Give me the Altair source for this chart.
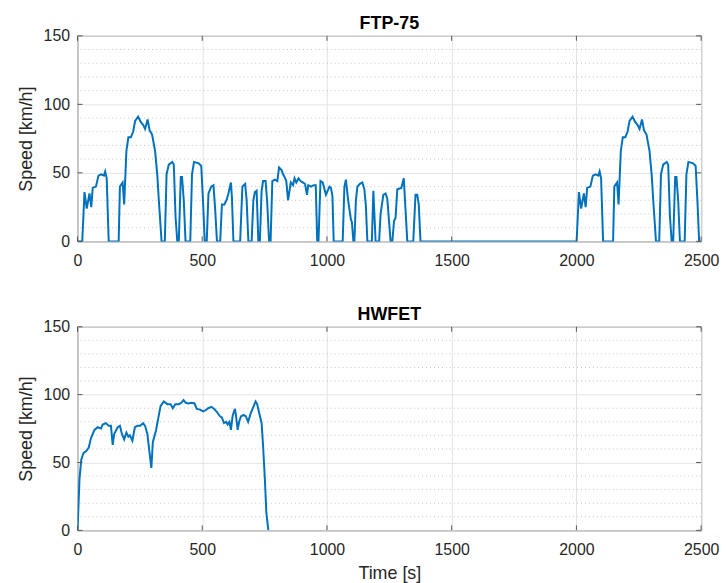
import altair as alt
import pandas as pd

# ---------------- data ----------------
ftp_t = [0, 19, 28, 37, 48, 55, 61, 74, 84, 95, 106, 111, 117, 125, 165, 170, 181, 187, 196, 204,
         214, 223, 231, 243, 254, 263, 271, 281, 289, 299, 311, 320, 326, 337, 350, 357, 366, 380,
         386, 393, 400, 406, 414, 419, 426, 433, 452, 459, 467, 486, 496, 503, 510, 518, 525, 536,
         545, 552, 559, 572, 579, 589, 599, 605, 615, 619, 625, 652, 661, 672, 678, 685, 698, 705,
         711, 718, 725, 731, 738, 744, 754, 760, 768, 774, 781, 791, 801, 808, 818, 824, 830, 837,
         844, 855, 864, 870, 877, 886, 894, 903, 912, 920, 925, 936, 947, 955, 961, 966, 974, 983,
         996, 1010, 1016, 1022, 1027, 1063, 1070, 1076, 1085, 1096, 1100, 1106, 1110, 1116, 1122,
         1132, 1142, 1150, 1156, 1162, 1180, 1186, 1195, 1209, 1215, 1226, 1235, 1242, 1255, 1262,
         1269, 1275, 1282, 1298, 1308, 1315, 1322, 1346, 1355, 1362, 1368, 1375,
         2001, 2010, 2019, 2030, 2037, 2043, 2056, 2066, 2077, 2088, 2093, 2099, 2107, 2147, 2152,
         2163, 2169, 2178, 2186, 2196, 2205, 2213, 2225, 2236, 2245, 2253, 2263, 2271, 2281, 2293,
         2302, 2308, 2319, 2332, 2339, 2348, 2362, 2368, 2375, 2382, 2388, 2396, 2401, 2408, 2415,
         2434, 2441, 2449, 2468, 2478, 2485, 2492]
ftp_v = [0, 0, 36, 24, 35, 25, 39, 40, 48, 49, 48, 51, 46, 0, 0, 40, 43, 27, 66, 76,
         76, 80, 88, 91, 87, 85, 82, 89, 81, 78, 66, 48, 30, 0, 0, 49, 56, 58,
         56, 18, 0, 0, 47, 47, 30, 0, 0, 49, 58, 57, 55, 30, 0, 0, 35, 40,
         41, 23, 0, 0, 27, 27, 31, 35, 43, 32, 0, 0, 40, 42, 30, 0, 0, 30,
         36, 37, 0, 0, 37, 44, 44, 30, 0, 0, 44, 45, 44, 54, 52, 49, 47, 44,
         30, 43, 41, 46, 43, 46, 44, 43, 42, 34, 41, 40, 41, 41, 0, 0, 44, 43,
         34, 40, 39, 33, 0, 0, 40, 45, 30, 16, 14, 0, 0, 30, 40,
         42, 43, 38, 26, 0, 0, 37, 0, 0, 20, 34, 35, 31, 0, 0,
         15, 17, 38, 39, 46, 23, 0, 0, 34, 34, 27, 0,
         0, 36, 24, 35, 25, 39, 40, 48, 49, 48, 51, 46, 0, 0, 40,
         43, 27, 66, 76, 76, 80, 88, 91, 87, 85, 82, 89, 81, 78, 66,
         48, 30, 0, 0, 49, 56, 58, 56, 18, 0, 0, 47, 47, 30, 0,
         0, 49, 58, 57, 55, 30, 0]

hw_t = [0, 8, 15, 24, 35, 45, 54, 68, 81, 94, 101, 114, 125, 134, 141, 147, 161, 170, 178, 187,
        196, 204, 210, 220, 230, 240, 251, 263, 271, 280, 287, 296, 302, 315, 323, 333, 346, 360,
        373, 382, 392, 406, 416, 425, 434, 445, 458, 469, 478, 491, 504, 513, 524, 537, 550, 560,
        569, 579, 587, 596, 602, 609, 615, 622, 631, 635, 642, 648, 655, 666, 675, 684, 694, 705,
        714, 720, 731, 738, 744, 751, 757, 765]
hw_v = [0, 38, 52, 57, 58.5, 61, 68, 74, 76, 75, 78, 79, 77, 77, 63, 71, 76, 77, 71, 67,
        72, 69, 70, 66, 76, 77, 77, 79, 77, 71, 60, 46, 65, 74, 82, 91.5, 95, 93,
        93, 90, 93, 93, 94, 96, 94, 93.5, 94, 93.5, 89.5, 89, 87.6, 88.5, 90, 91, 89, 87,
        84.5, 83, 79, 80, 78, 80, 74, 84.5, 89.5, 85, 74, 80, 84, 85, 84, 80, 86, 91,
        95, 93, 84.5, 79, 62, 38, 13, 0]

x_ticks = [0, 500, 1000, 1500, 2000, 2500]
y_ticks = [0, 50, 100, 150]
y_minor = [10, 20, 30, 40, 60, 70, 80, 90, 110, 120, 130, 140]

BLUE = "#0072BD"
FONT = "Liberation Sans"
FRAME = "#555555"
W = 628


def panel(t, v, title, H, xtitle):
    df = pd.DataFrame({"t": t, "v": v})
    xs = alt.Scale(domain=[0, 2500], nice=False)
    ys = alt.Scale(domain=[0, 150], nice=False)

    common = dict(grid=True, ticks=False, domain=False, labelFlush=False,
                  labelFont=FONT, labelFontSize=16, labelColor="#262626",
                  titleFont=FONT, titleFontSize=18, titleFontWeight="normal",
                  titleColor="#262626", gridColor="#e3e3e3")
    if xtitle:
        xaxis = alt.Axis(values=x_ticks, labelPadding=11, format="d",
                         title=xtitle, titlePadding=7, **common)
    else:
        xaxis = alt.Axis(values=x_ticks, labelPadding=11, format="d",
                         title=None, **common)
    yaxis = alt.Axis(values=y_ticks, labelPadding=8, title="Speed [km/h]",
                     titlePadding=8, **common)

    minor = alt.Chart(pd.DataFrame({"m": y_minor})).mark_rule(
        color="#c4c4c4", strokeDash=[1, 3], strokeWidth=1
    ).encode(y=alt.Y("m:Q", scale=ys, axis=yaxis))

    line = alt.Chart(df).mark_line(color=BLUE, strokeWidth=2, clip=True).encode(
        x=alt.X("t:Q", scale=xs, axis=xaxis),
        y=alt.Y("v:Q", scale=ys, axis=yaxis),
    )

    xt = pd.DataFrame({"xt": x_ticks})
    yt = pd.DataFrame({"yt": y_ticks})
    tb = alt.Chart(xt).mark_rule(color=FRAME, strokeWidth=1).encode(
        x=alt.X("xt:Q", scale=xs, axis=xaxis), y=alt.value(H), y2=alt.value(H - 5))
    tt = alt.Chart(xt).mark_rule(color=FRAME, strokeWidth=1).encode(
        x=alt.X("xt:Q", scale=xs, axis=xaxis), y=alt.value(0), y2=alt.value(5))
    tl = alt.Chart(yt).mark_rule(color=FRAME, strokeWidth=1).encode(
        y=alt.Y("yt:Q", scale=ys, axis=yaxis), x=alt.value(0), x2=alt.value(5))
    tr = alt.Chart(yt).mark_rule(color=FRAME, strokeWidth=1).encode(
        y=alt.Y("yt:Q", scale=ys, axis=yaxis), x=alt.value(W), x2=alt.value(W - 5))

    return alt.layer(minor, line, tb, tt, tl, tr).properties(
        width=W, height=H,
        title=alt.TitleParams(title, font=FONT, fontSize=18, fontWeight="bold",
                              color="#000000", anchor="middle", offset=-5),
    )


top = panel(ftp_t, ftp_v, "FTP-75", 207, None)
bottom = panel(hw_t, hw_v, "HWFET", 205, "Time [s]")

chart = alt.vconcat(top, bottom, spacing=36).properties(
    padding={"left": 8, "top": 4, "right": 0, "bottom": 0},
    background="white",
).configure_view(
    stroke=FRAME, strokeWidth=1
)

chart.save("out.html", embed_options={"renderer": "svg", "actions": False})
